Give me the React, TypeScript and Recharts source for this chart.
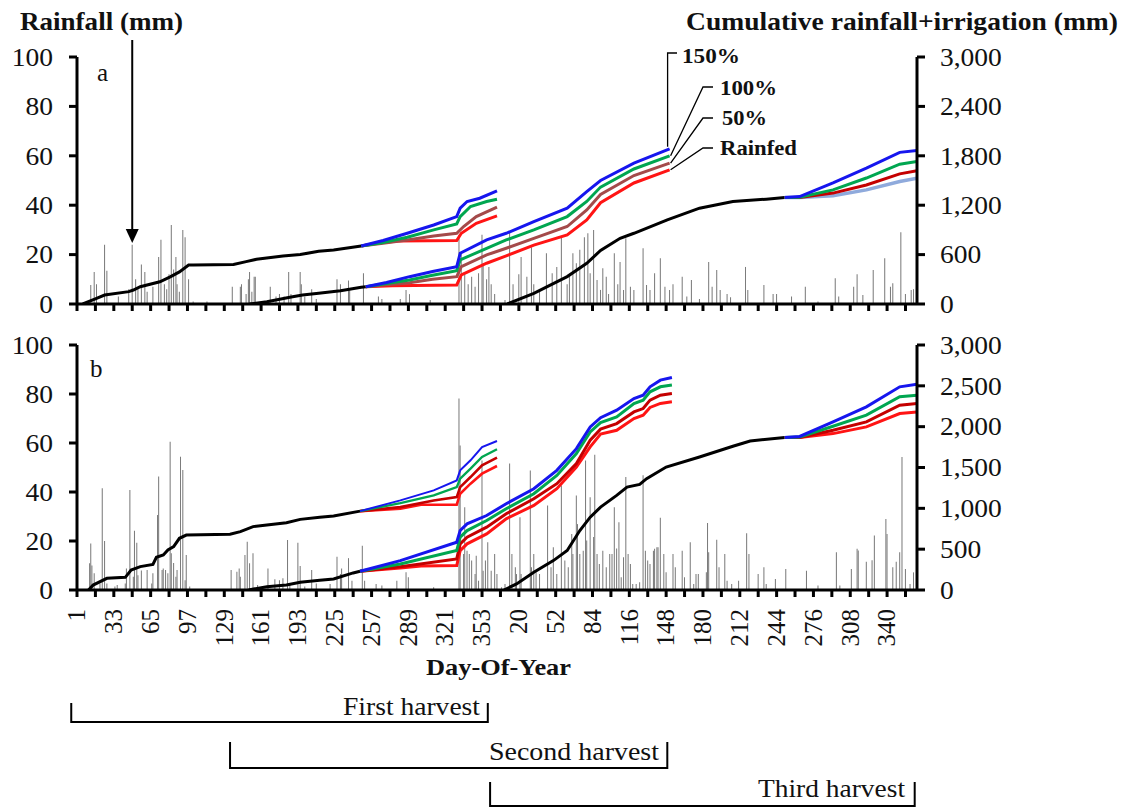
import React from 'react';
import { ComposedChart, Bar, Line, XAxis, YAxis } from 'recharts';

type P = [number, number];

// ---------------- tick data ----------------
const tickDays = [1, 17, 33, 49, 65, 81, 97, 113, 129, 145, 161, 177, 193, 209, 225, 241, 257, 273, 289, 305, 321, 337, 353, 369, 385, 401, 417, 433, 449, 465, 481, 497, 513, 529, 545, 561, 577, 593, 609, 625, 641, 657, 673, 689, 705, 721];
const labelDays = [1, 33, 65, 97, 129, 161, 193, 225, 257, 289, 321, 353, 385, 417, 449, 481, 513, 545, 577, 609, 641, 673, 705];
const labelTexts = ['1', '33', '65', '97', '129', '161', '193', '225', '257', '289', '321', '353', '20', '52', '84', '116', '148', '180', '212', '244', '276', '308', '340'];
const rainTicks = [0, 20, 40, 60, 80, 100];
const cumTicksA = [0, 600, 1200, 1800, 2400, 3000];
const cumTicksB = [0, 500, 1000, 1500, 2000, 2500, 3000];

// ---------------- daily rainfall (day index, mm) ----------------
const rainA: P[] = [[13, 7.7], [16, 13], [18, 8], [25, 24], [27, 13.5], [37, 3], [46, 6], [49, 24], [52, 10], [54, 6], [57, 16], [60, 13], [62, 5], [67, 7], [72, 19], [74, 26], [77, 8], [79, 6], [81, 12], [83, 32], [85, 14], [87, 19], [88, 8], [90, 5], [93, 30], [95, 27], [98, 10], [102, 1], [114, 1], [136, 7], [143, 7], [144, 8], [148, 4], [150, 10], [151, 13], [153, 5], [155, 11], [156, 11], [169, 7], [174, 3], [177, 4], [181, 3], [185, 13], [187, 4], [195, 13], [196, 8], [199, 3], [205, 6], [209, 2], [227, 10], [230, 8], [237, 9.5], [238, 5.7], [250, 12.4], [263, 3], [266, 2], [282, 2], [287, 5.7], [290, 4], [308, 1.6], [333, 28], [335, 20.5], [338, 12], [341, 8], [344, 11], [347, 7], [350, 12.4], [353, 28], [354, 16.5], [357, 10], [359, 15], [361, 8], [364, 4], [373, 1.6], [377, 29], [380, 8], [385, 12], [387, 19], [392, 11], [396, 23], [398, 8], [403, 5.7], [409, 20.5], [414, 12.4], [418, 15], [422, 27], [427, 8], [429, 11], [432, 20.5], [435, 16.5], [438, 22], [442, 27], [445, 28.6], [447, 12.4], [450, 30], [453, 9.7], [456, 5.7], [458, 14.5], [461, 11], [463, 4], [468, 20.5], [471, 8], [473, 17], [476, 5.7], [478, 26.6], [482, 7], [485, 5.7], [493, 22.6], [496, 7.7], [499, 5.7], [503, 12.4], [508, 18.5], [512, 7], [516, 5.7], [519, 8], [527, 11], [531, 3], [535, 9.7], [542, 2], [550, 17], [553, 7], [557, 13.8], [560, 5.7], [566, 4], [569, 2.7], [582, 15], [584, 5.7], [598, 7.7], [606, 4], [609, 4], [622, 3], [634, 7], [645, 1], [660, 10.4], [663, 3], [676, 7], [679, 12], [684, 3.6], [693, 13.8], [703, 18.5], [708, 7], [710, 8.4], [717, 29], [721, 4], [726, 5.7], [728, 6]];

const rainB: P[] = [[12, 10.9], [13, 19], [14, 10], [16, 6.8], [21, 2.7], [23, 41.5], [25, 20], [27, 2.7], [34, 1.4], [36, 2], [43, 2.7], [44, 8.8], [47, 40.8], [50, 5.4], [51, 24.2], [53, 19.3], [54, 6], [57, 8], [62, 8.2], [66, 2.7], [67, 6.8], [71, 30.6], [72, 46.3], [75, 8.2], [76, 8.8], [78, 8.2], [80, 6.8], [82, 60.5], [83, 15], [85, 11], [87, 5.4], [88, 8.2], [91, 54.4], [93, 49], [95, 4], [96, 14.3], [99, 1.4], [135, 8.2], [140, 7.5], [142, 8.8], [143, 5.4], [147, 14.3], [149, 19.7], [151, 10.9], [154, 15], [158, 2], [167, 8.8], [173, 4.4], [177, 4], [180, 4.8], [184, 20.4], [186, 2.7], [193, 19.3], [195, 9.8], [199, 1.4], [205, 8.2], [209, 2.7], [221, 2.5], [227, 13.6], [230, 6.5], [231, 8.8], [237, 13], [240, 3.8], [249, 18.1], [251, 3.8], [261, 2.5], [266, 1.8], [279, 3.8], [287, 7.2], [289, 5.2], [311, 1.1], [333, 78.2], [334, 59], [337, 14.7], [338, 33.8], [340, 16], [342, 14.7], [344, 12], [347, 6.5], [348, 14], [350, 3.8], [353, 52.9], [354, 7.9], [356, 12], [358, 19.5], [361, 7.9], [364, 14.7], [366, 6.5], [370, 1.1], [373, 2.5], [377, 51.6], [379, 14.7], [382, 9.3], [383, 6.5], [386, 29.7], [387, 6.5], [395, 48.8], [396, 9.3], [398, 14.7], [400, 7.2], [403, 6.5], [410, 34.5], [413, 9.3], [415, 17.5], [418, 6.5], [422, 42.7], [425, 12], [428, 9.3], [431, 22.9], [432, 14.7], [435, 38.6], [436, 26.9], [438, 14.7], [441, 16], [443, 52.9], [444, 20.2], [447, 37.9], [450, 21.6], [451, 55.2], [453, 14.7], [455, 10.6], [458, 16], [461, 9.3], [464, 14.7], [466, 14.7], [468, 33.8], [470, 16.9], [472, 27.7], [474, 5.2], [476, 13.4], [478, 46.1], [480, 14.7], [482, 10.6], [484, 2.5], [487, 2.5], [490, 3.2], [493, 46.8], [495, 16], [497, 12], [499, 10.6], [502, 16], [503, 16.8], [505, 17.5], [506, 17.5], [508, 29.5], [511, 14.7], [513, 7.2], [519, 14.7], [521, 9.3], [527, 16], [529, 5.2], [534, 19.5], [537, 2.5], [539, 6.5], [541, 6.5], [548, 7.2], [549, 27.3], [550, 15.4], [557, 20.5], [559, 9.3], [564, 14.7], [566, 3.8], [570, 2.5], [576, 3.8], [583, 23.2], [585, 14.7], [593, 6.5], [598, 9.3], [600, 2.5], [608, 4.5], [617, 8.6], [635, 7.9], [645, 1.8], [661, 15.4], [664, 1.8], [674, 8.6], [679, 16.8], [680, 16.1], [687, 11.5], [692, 12.1], [694, 22.2], [704, 29], [705, 22.9], [710, 9.3], [713, 11.5], [716, 15.4], [718, 54.3], [721, 8.6], [725, 2.5], [728, 7.2]];

// ---------------- cumulative rainfall + irrigation (day index, mm) ----------------
// panel a, first harvest
const a1Black: P[] = [[6, 0], [18, 69], [25, 109], [46, 150], [50, 170], [56, 210], [73, 270], [82, 330], [90, 390], [98, 474], [102, 474], [137, 480], [148, 515], [157, 543], [180, 584], [195, 600], [211, 640], [224, 657], [248, 705]];
const a1Blue: P[] = [[248, 705], [267, 771], [288, 859], [311, 960], [331, 1062], [334, 1164], [340, 1245], [351, 1285], [366, 1374]];
const a1Green: P[] = [[248, 705], [267, 746], [288, 811], [311, 900], [331, 973], [334, 1062], [343, 1184], [357, 1245], [366, 1273]];
const a1Brown: P[] = [[248, 705], [267, 738], [288, 778], [311, 827], [331, 859], [337, 941], [348, 1062], [366, 1176]];
const a1Red: P[] = [[248, 705], [262, 740], [280, 765], [331, 772], [335, 859], [348, 981], [366, 1070]];
// panel a, second harvest
const a2Black: P[] = [[151, 0], [166, 28], [186, 81], [197, 109], [211, 130], [230, 162], [248, 203], [252, 210]];
const a2Blue: P[] = [[252, 210], [270, 262], [290, 332], [310, 395], [331, 454], [334, 616], [357, 778], [374, 859], [398, 1001], [427, 1164], [444, 1366], [456, 1500], [485, 1711], [516, 1885]];
const a2Green: P[] = [[252, 210], [270, 250], [290, 292], [310, 350], [331, 405], [334, 535], [357, 677], [374, 778], [398, 900], [427, 1062], [444, 1245], [456, 1420], [485, 1640], [516, 1800]];
const a2Brown: P[] = [[252, 210], [270, 235], [290, 259], [310, 300], [331, 332], [335, 454], [357, 596], [374, 677], [398, 798], [427, 941], [444, 1143], [456, 1330], [485, 1560], [516, 1711]];
const a2Red: P[] = [[252, 210], [275, 222], [331, 231], [335, 353], [357, 495], [374, 584], [398, 716], [427, 839], [444, 1021], [456, 1230], [485, 1470], [516, 1630]];
// panel a, third harvest
const a3Black: P[] = [[375, 0], [398, 130], [427, 333], [444, 495], [456, 650], [473, 798], [485, 859], [514, 1021], [542, 1164], [571, 1245], [600, 1273], [616, 1293]];
const a3Blue: P[] = [[616, 1293], [629, 1305], [658, 1470], [687, 1650], [716, 1842], [731, 1866]];
const a3Green: P[] = [[616, 1293], [629, 1298], [658, 1386], [687, 1530], [716, 1698], [731, 1731]];
const a3Dark: P[] = [[616, 1293], [629, 1294], [658, 1347], [687, 1446], [716, 1581], [731, 1620]];
const a3Light: P[] = [[616, 1293], [629, 1293], [658, 1314], [687, 1386], [716, 1488], [731, 1527]];

// panel b, first harvest
const b1Black: P[] = [[11, 0], [15, 60], [27, 143], [43, 155], [48, 245], [56, 286], [67, 314], [70, 400], [76, 429], [80, 490], [85, 531], [90, 633], [96, 673], [134, 682], [143, 714], [154, 776], [166, 796], [183, 824], [195, 865], [212, 890], [224, 905], [247, 966]];
const b1Blue: P[] = [[247, 966], [282, 1097], [311, 1220], [331, 1342], [334, 1465], [343, 1588], [353, 1751], [366, 1825]];
const b1Green: P[] = [[247, 966], [282, 1064], [311, 1158], [331, 1260], [334, 1363], [343, 1486], [353, 1629], [366, 1723]];
const b1Dark: P[] = [[247, 966], [282, 1015], [311, 1097], [331, 1138], [334, 1260], [343, 1383], [353, 1527], [366, 1621]];
const b1Red: P[] = [[247, 966], [282, 995], [300, 1044], [331, 1044], [334, 1179], [343, 1302], [353, 1424], [366, 1518]];
// panel b, second harvest
const b2Black: P[] = [[150, 0], [166, 41], [183, 61], [195, 96], [212, 118], [224, 135], [241, 209], [247, 229]];
const b2Blue: P[] = [[247, 229], [282, 360], [331, 585], [334, 728], [340, 810], [357, 912], [374, 1056], [398, 1240], [418, 1465], [435, 1731], [447, 1997], [456, 2110], [470, 2202], [485, 2345], [493, 2386], [499, 2488], [508, 2570], [518, 2603]];
const b2Green: P[] = [[247, 229], [282, 319], [331, 483], [334, 647], [340, 728], [357, 851], [374, 995], [398, 1179], [418, 1403], [435, 1670], [447, 1936], [456, 2050], [470, 2120], [485, 2284], [493, 2325], [499, 2427], [508, 2488], [518, 2509]];
const b2Dark: P[] = [[247, 229], [282, 286], [331, 381], [334, 565], [340, 647], [357, 769], [374, 933], [398, 1117], [418, 1302], [435, 1549], [447, 1834], [456, 1970], [470, 2038], [485, 2181], [493, 2222], [499, 2325], [508, 2386], [518, 2406]];
const b2Red: P[] = [[247, 229], [282, 270], [300, 295], [331, 299], [334, 483], [340, 565], [357, 687], [374, 872], [398, 1035], [418, 1240], [435, 1506], [447, 1752], [456, 1910], [470, 1956], [485, 2100], [493, 2141], [499, 2235], [508, 2284], [518, 2304]];
// panel b, third harvest
const b3Black: P[] = [[372, 0], [383, 75], [398, 217], [415, 360], [427, 483], [438, 728], [447, 892], [456, 1015], [470, 1158], [479, 1260], [490, 1293], [496, 1363], [513, 1506], [542, 1629], [571, 1760], [586, 1825], [616, 1866]];
const b3Blue: P[] = [[616, 1866], [629, 1880], [658, 2059], [687, 2243], [716, 2488], [731, 2521]];
const b3Green: P[] = [[616, 1866], [629, 1872], [658, 2005], [687, 2141], [716, 2366], [731, 2386]];
const b3Dark: P[] = [[616, 1866], [629, 1868], [658, 1956], [687, 2059], [716, 2263], [731, 2284]];
const b3Red: P[] = [[616, 1866], [629, 1866], [658, 1915], [687, 1997], [716, 2161], [731, 2181]];

const treatmentLabels = ['150%', '100%', '50%', 'Rainfed'];
const harvestNames = ['First harvest', 'Second harvest', 'Third harvest'];
const harvestStart = [-4, 134, 360];
const harvestEnd = [358, 514, 729];

// ---------------- styling / layout ----------------
const FONT = '"Liberation Serif", "Times New Roman", Times, serif';
const INK = '#111111';
const COL = {
  black: '#000000',
  blue: '#1616EE',
  green: '#00A650',
  brown: '#A44A4A',
  red: '#FF1414',
  dark: '#C40000',
  light: '#8FAADC',
  rain: '#7c7c7c',
};
const W = 1126;
const H = 807;
const PLOT_L = 77;
const PLOT_R = 917;
const DAY_MIN = 1;
const DAY_MAX = 731;
const A_TOP = 57;
const A_BOT = 304;
const CUM_MAX = 3000;

const xPix = (d: number) => PLOT_L + ((d - DAY_MIN) * (PLOT_R - PLOT_L)) / (DAY_MAX - DAY_MIN);
const yPixA = (v: number) => A_BOT - (v / CUM_MAX) * (A_BOT - A_TOP);

const toRows = (pts: P[]) => pts.map(([d, v]) => ({ d, v }));
const rainRows = (pts: P[]) => pts.map(([d, r]) => ({ d, r }));
const last = (pts: P[]) => pts[pts.length - 1];

function LeftTick(props: any) {
  const { x, y, payload } = props;
  return (
    <text transform={`translate(${x},${y}) scale(1.1,1)`} x={0} y={0} dy="0.35em" textAnchor="end" fontFamily={FONT} fontSize={25} fill={INK}>
      {payload.value}
    </text>
  );
}
function RightTick(props: any) {
  const { x, y, payload } = props;
  return (
    <text transform={`translate(${x},${y}) scale(1.1,1)`} x={0} y={0} dy="0.35em" textAnchor="start" fontFamily={FONT} fontSize={25} fill={INK}>
      {Number(payload.value).toLocaleString('en-US')}
    </text>
  );
}
function BottomTick(props: any) {
  const { x, y, payload } = props;
  const idx = labelDays.indexOf(payload.value);
  if (idx < 0) return <g />;
  return (
    <text transform={`translate(${x},${y}) rotate(-90)`} x={0} y={0} dy="0.33em" textAnchor="end" fontFamily={FONT} fontSize={25} fill={INK}>
      {labelTexts[idx]}
    </text>
  );
}
function NoTick() {
  return <g />;
}

type S = { pts: P[]; color: string; w: number };

const seriesA: S[] = [
  { pts: a1Black, color: COL.black, w: 3 },
  { pts: a2Black, color: COL.black, w: 3 },
  { pts: a3Black, color: COL.black, w: 3 },
  { pts: a1Red, color: COL.red, w: 3 },
  { pts: a1Brown, color: COL.brown, w: 3 },
  { pts: a1Green, color: COL.green, w: 3 },
  { pts: a1Blue, color: COL.blue, w: 3 },
  { pts: a2Red, color: COL.red, w: 3 },
  { pts: a2Brown, color: COL.brown, w: 3 },
  { pts: a2Green, color: COL.green, w: 3 },
  { pts: a2Blue, color: COL.blue, w: 3 },
  { pts: a3Light, color: COL.light, w: 3.5 },
  { pts: a3Dark, color: COL.dark, w: 3 },
  { pts: a3Green, color: COL.green, w: 3 },
  { pts: a3Blue, color: COL.blue, w: 3 },
];
const seriesB: S[] = [
  { pts: b1Black, color: COL.black, w: 3 },
  { pts: b2Black, color: COL.black, w: 3 },
  { pts: b3Black, color: COL.black, w: 3 },
  { pts: b1Red, color: COL.red, w: 2.6 },
  { pts: b1Dark, color: COL.dark, w: 2.6 },
  { pts: b1Green, color: COL.green, w: 2.3 },
  { pts: b1Blue, color: COL.blue, w: 2 },
  { pts: b2Red, color: COL.red, w: 3 },
  { pts: b2Dark, color: COL.dark, w: 3 },
  { pts: b2Green, color: COL.green, w: 3 },
  { pts: b2Blue, color: COL.blue, w: 3 },
  { pts: b3Red, color: COL.red, w: 3 },
  { pts: b3Dark, color: COL.dark, w: 3 },
  { pts: b3Green, color: COL.green, w: 3 },
  { pts: b3Blue, color: COL.blue, w: 3 },
];

type PanelProps = {
  top: number;
  height: number;
  margin: { top: number; right: number; bottom: number; left: number };
  xHeight: number;
  rain: P[];
  series: S[];
  cumTicks: number[];
  labels: boolean;
};

function Panel({ top, height, margin, xHeight, rain, series, cumTicks, labels }: PanelProps) {
  const axisStyle = { stroke: '#000', strokeWidth: 3 };
  return (
    <div style={{ position: 'absolute', left: 0, top, width: W, height }}>
      <ComposedChart width={W} height={height} data={rainRows(rain)} margin={margin}>
        <XAxis
          dataKey="d"
          type="number"
          domain={[DAY_MIN, DAY_MAX]}
          allowDataOverflow
          ticks={tickDays}
          interval={0}
          height={xHeight}
          tickSize={7}
          tickMargin={12}
          axisLine={axisStyle}
          tickLine={axisStyle}
          tick={labels ? <BottomTick /> : <NoTick />}
        />
        <YAxis
          yAxisId="l"
          domain={[0, 100]}
          allowDataOverflow
          ticks={rainTicks}
          interval={0}
          width={PLOT_L}
          tickSize={8}
          tickMargin={16}
          axisLine={axisStyle}
          tickLine={axisStyle}
          tick={<LeftTick />}
        />
        <YAxis
          yAxisId="r"
          orientation="right"
          domain={[0, CUM_MAX]}
          allowDataOverflow
          ticks={cumTicks}
          interval={0}
          width={100}
          tickSize={8}
          tickMargin={15}
          axisLine={axisStyle}
          tickLine={axisStyle}
          tick={<RightTick />}
        />
        <Bar yAxisId="l" dataKey="r" fill={COL.rain} barSize={1.6} isAnimationActive={false} />
        {series.map((s, i) => (
          <Line
            key={i}
            yAxisId="r"
            data={toRows(s.pts)}
            dataKey="v"
            type="linear"
            stroke={s.color}
            strokeWidth={s.w}
            dot={false}
            activeDot={false}
            isAnimationActive={false}
          />
        ))}
      </ComposedChart>
    </div>
  );
}

function Txt({ x, y, w, size = 25, bold = false, children }: { x: number; y: number; w?: number; size?: number; bold?: boolean; children: React.ReactNode }) {
  return (
    <text
      x={x}
      y={y}
      textLength={w}
      lengthAdjust={w ? 'spacingAndGlyphs' : undefined}
      fontFamily={FONT}
      fontSize={size}
      fontWeight={bold ? 700 : 400}
      fill={INK}
    >
      {children}
    </text>
  );
}

export default function App() {
  const [bEnd, gEnd, brEnd, rEnd] = [last(a2Blue), last(a2Green), last(a2Brown), last(a2Red)];
  const xe = xPix(bEnd[0]);
  const arrowX = xPix(49);
  const bracketY = [[703, 722], [742, 768], [782, 806]];
  const harvestTextX = [343, 489, 758];
  const harvestTextW = [137, 170, 147];
  const harvestTextY = [715, 760, 797];
  return (
    <div style={{ position: 'absolute', left: 0, top: 0, width: W, height: H, background: '#fff' }}>
      <Panel
        top={0}
        height={320}
        margin={{ top: A_TOP, right: W - PLOT_R - 100, bottom: 0, left: 0 }}
        xHeight={16}
        rain={rainA}
        series={seriesA}
        cumTicks={cumTicksA}
        labels={false}
      />
      <Panel
        top={320}
        height={487}
        margin={{ top: 25, right: W - PLOT_R - 100, bottom: 157, left: 0 }}
        xHeight={60}
        rain={rainB}
        series={seriesB}
        cumTicks={cumTicksB}
        labels={true}
      />
      <svg width={W} height={H} style={{ position: 'absolute', left: 0, top: 0, pointerEvents: 'none' }}>
        <Txt x={20} y={30} w={163} bold>Rainfall (mm)</Txt>
        <Txt x={686} y={30} w={432} bold>Cumulative rainfall+irrigation (mm)</Txt>
        <Txt x={97} y={81}>a</Txt>
        <Txt x={90} y={377}>b</Txt>

        {/* arrow */}
        <line x1={arrowX} y1={40} x2={arrowX} y2={231} stroke="#000" strokeWidth={2} />
        <polygon points={`${arrowX - 6.5},229 ${arrowX + 6.5},229 ${arrowX},243`} fill="#000" />

        {/* leader lines for treatment labels */}
        <polyline points={`${xe - 2},${yPixA(bEnd[1]) - 2} ${xe - 2},53 677,53`} fill="none" stroke="#000" strokeWidth={1.3} />
        <polyline points={`${xe + 1},${yPixA(gEnd[1])} 703,87 713,87`} fill="none" stroke="#000" strokeWidth={1.3} />
        <polyline points={`${xe + 1},${yPixA(brEnd[1])} 703,118 713,118`} fill="none" stroke="#000" strokeWidth={1.3} />
        <polyline points={`${xe + 1},${yPixA(rEnd[1])} 703,148 713,148`} fill="none" stroke="#000" strokeWidth={1.3} />
        <Txt x={682} y={63} w={58} size={20} bold>{treatmentLabels[0]}</Txt>
        <Txt x={720} y={95} w={57} size={20} bold>{treatmentLabels[1]}</Txt>
        <Txt x={722} y={125} w={45} size={20} bold>{treatmentLabels[2]}</Txt>
        <Txt x={720} y={155} w={77} size={20} bold>{treatmentLabels[3]}</Txt>

        {/* x axis title */}
        <Txt x={426} y={675} w={145} size={24} bold>Day-Of-Year</Txt>

        {/* harvest brackets */}
        {harvestNames.map((name, i) => {
          const x1 = xPix(harvestStart[i]);
          const x2 = xPix(harvestEnd[i]);
          const [yt, yb] = bracketY[i];
          return (
            <g key={name}>
              <polyline points={`${x1},${yt} ${x1},${yb} ${x2},${yb} ${x2},${yt}`} fill="none" stroke="#000" strokeWidth={2} />
              <Txt x={harvestTextX[i]} y={harvestTextY[i]} w={harvestTextW[i]}>{name}</Txt>
            </g>
          );
        })}
      </svg>
    </div>
  );
}
